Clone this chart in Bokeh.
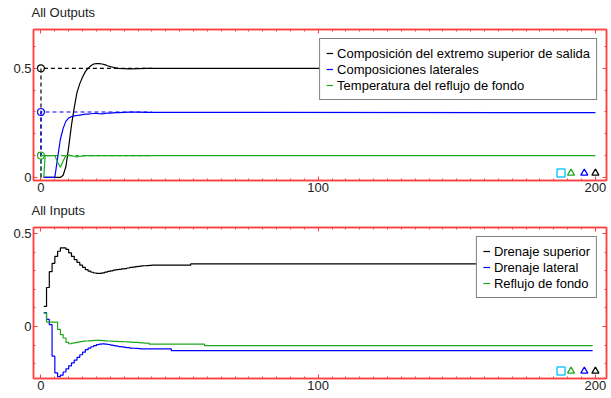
from bokeh.plotting import figure
from bokeh.layouts import column
from bokeh.models import LinearAxis, FixedTicker, Range1d, Legend, LegendItem
from bokeh.embed import file_html
from bokeh.resources import INLINE

FONT = "Liberation Sans"
RED = "#ff4040"
BLACK = "#000000"
BLUE = "#0000ff"
GREEN = "#1fa81f"
CYAN = "#1ec8ff"

# ---------------- All Outputs ----------------
out_t = [1, 1.5, 2, 3, 4, 5, 6, 7, 8, 9, 10, 11, 12, 13, 14, 15, 16, 17, 18, 19, 20,
         21, 22, 23, 24, 25, 26, 27, 28, 30, 32, 35, 38, 40, 200]
out_top = [0, 0, 0, 0, 0, 0, 0, 0,
           0.01, 0.05, 0.14, 0.24, 0.32, 0.39, 0.43, 0.46, 0.485, 0.50, 0.512, 0.52, 0.522,
           0.522, 0.52, 0.517, 0.512, 0.508, 0.505, 0.502, 0.5,
           0.499, 0.498, 0.499, 0.5, 0.5, 0.5]
out_side = [0, 0, 0, 0, 0, 0, 0.09, 0.175,
            0.225, 0.258, 0.272, 0.279, 0.282, 0.284, 0.286, 0.288, 0.29, 0.29, 0.292, 0.293, 0.294,
            0.292, 0.291, 0.293, 0.295, 0.295, 0.296, 0.297, 0.297,
            0.298, 0.299, 0.299, 0.298, 0.298, 0.297]
out_temp = [0, 0.1, 0.1, 0.1, 0.1, 0.1, 0.07, 0.047,
            0.075, 0.1, 0.103, 0.1, 0.096, 0.094, 0.096, 0.099, 0.1, 0.1, 0.1, 0.1, 0.1,
            0.1, 0.1, 0.1, 0.1, 0.1, 0.1, 0.1, 0.1,
            0.1, 0.1, 0.1, 0.1, 0.1, 0.1]

# setpoint trajectories (dashed) and their start markers
sp_t = [0, 0, 40]
sp_top = [0, 0.5, 0.5]
sp_side = [0, 0.3, 0.3]
sp_temp = [0, 0.1, 0.1]

out_labels = ["Composición del extremo superior de salida",
              "Composiciones laterales",
              "Temperatura del reflujo de fondo"]

# ---------------- All Inputs ----------------
in_t = list(range(1, 41)) + [47, 54, 59, 199]
in_top = [0.108, 0.21, 0.295, 0.34, 0.377, 0.405, 0.423, 0.423, 0.415, 0.396,
          0.377, 0.36, 0.345, 0.33, 0.318, 0.306, 0.298, 0.292, 0.288, 0.286,
          0.286, 0.289, 0.293, 0.297, 0.3, 0.303, 0.306, 0.308, 0.31, 0.312,
          0.315, 0.318, 0.32, 0.322, 0.324, 0.326, 0.327, 0.328, 0.329, 0.33,
          0.33, 0.337, 0.337, 0.337]
in_side = [0.075, 0.038, 0.01, -0.16, -0.25, -0.27, -0.262, -0.245, -0.228, -0.212,
           -0.196, -0.181, -0.166, -0.152, -0.138, -0.125, -0.116, -0.109, -0.103, -0.098,
           -0.095, -0.094, -0.095, -0.097, -0.1, -0.103, -0.106, -0.108, -0.11, -0.112,
           -0.114, -0.116, -0.117, -0.118, -0.119, -0.12, -0.121, -0.121, -0.121, -0.121,
           -0.13, -0.13, -0.13, -0.13]
in_reflux = [0.072, 0.024, 0.024, 0.024, 0.024, -0.016, -0.044, -0.062, -0.086, -0.093,
             -0.09, -0.087, -0.084, -0.081, -0.079, -0.078, -0.077, -0.076, -0.075, -0.075,
             -0.075, -0.076, -0.077, -0.078, -0.079, -0.08, -0.08, -0.081, -0.081, -0.082,
             -0.083, -0.084, -0.085, -0.086, -0.087, -0.088, -0.089, -0.09, -0.095, -0.095,
             -0.095, -0.095, -0.103, -0.103]
in_labels = ["Drenaje superior", "Drenaje lateral", "Reflujo de fondo"]

# indicator markers in the lower right corner
mk_t = [187.6, 191.2, 196, 200]
mk_out_y = [0.02, 0.02, 0.02, 0.02]
mk_in_y = [-0.24, -0.24, -0.24, -0.24]

# ticks
x_major = [0, 100, 200]
x_minor = list(range(-0, 205, 5))
y_major = [0, 0.5]
y_minor_out = [0, 0.1, 0.2, 0.3, 0.4, 0.5, 0.6]
y_minor_in = [-0.2, -0.1, 0, 0.1, 0.2, 0.3, 0.4, 0.5]


def style_axis(ax, labels=True):
    ax.axis_line_color = RED
    ax.axis_line_width = 1.5
    ax.major_tick_line_color = RED
    ax.minor_tick_line_color = RED
    ax.major_tick_in = 4
    ax.major_tick_out = 0
    ax.minor_tick_in = 2
    ax.minor_tick_out = 0
    if labels:
        ax.major_label_text_font = FONT
        ax.major_label_text_font_size = "13px"
        ax.major_label_text_color = "#222222"
        ax.major_label_standoff = 2
    else:
        ax.major_label_text_font_size = "0px"
        ax.major_label_text_color = None
        ax.major_label_standoff = 0


def make_fig(title, height, lift, bottom, yr, yminor, standoff):
    p = figure(width=611, height=height, output_backend="svg", toolbar_location=None,
               x_range=Range1d(-2.7, 204), y_range=Range1d(*yr),
               min_border_left=33, min_border_right=5,
               min_border_top=0, min_border_bottom=bottom,
               margin=(-lift, 0, 0, 0))
    p.title.text = title
    p.title.align = "left"
    p.title.vertical_align = "top"
    p.title.offset = -2
    p.title.text_font = FONT
    p.title.text_font_size = "13px"
    p.title.text_font_style = "normal"
    p.title.text_color = "#222222"
    p.title.standoff = standoff
    p.grid.visible = False
    p.outline_line_color = RED
    p.outline_line_width = 1.5
    p.background_fill_color = "white"
    p.border_fill_alpha = 0
    xt = FixedTicker(ticks=x_major, minor_ticks=x_minor)
    yt = FixedTicker(ticks=y_major, minor_ticks=yminor)
    p.xaxis.ticker = xt
    p.yaxis.ticker = yt
    for ax in p.xaxis:
        style_axis(ax)
    for ax in p.yaxis:
        style_axis(ax)
    ra = LinearAxis(ticker=yt)
    style_axis(ra, labels=False)
    p.add_layout(ra, "right")
    ta = LinearAxis(ticker=xt)
    style_axis(ta, labels=False)
    p.add_layout(ta, "above")
    return p


def make_legend(items):
    lg = Legend(items=items, location="top_right")
    lg.border_line_color = "black"
    lg.border_line_width = 1
    lg.background_fill_color = "white"
    lg.background_fill_alpha = 1
    lg.label_text_font = FONT
    lg.label_text_font_size = "13px"
    lg.label_text_color = "black"
    lg.glyph_width = 7
    lg.glyph_height = 16
    lg.label_height = 16
    lg.label_standoff = 4
    lg.padding = 6
    lg.spacing = 0
    lg.margin = 9
    return lg


# ---------- top figure ----------
p1 = make_fig("All Outputs", 204, 4, 20, (-0.014, 0.678), y_minor_out, 16)
colors = [BLACK, BLUE, GREEN]
r_out = []
for sp, c in zip([sp_top, sp_side, sp_temp], colors):
    p1.line(sp_t, sp, color=c, line_width=1.2, line_dash="4 3")
for ys, c in zip([out_top, out_side, out_temp], colors):
    r_out.append(p1.line(out_t, ys, color=c, line_width=1.2))
for sp, c in zip([sp_top, sp_side, sp_temp], colors):
    p1.scatter([sp_t[1]], [sp[1]], marker="circle", size=7, fill_color=None,
               line_color=c, line_width=1.2)
p1.scatter(mk_t[:1], mk_out_y[:1], marker="square", size=8, fill_color=None,
           line_color=CYAN, line_width=1.5)
p1.scatter(mk_t[1:], mk_out_y[1:], marker="triangle", size=7, fill_color=None,
           line_color=[GREEN, BLUE, BLACK], line_width=1.3)
p1.add_layout(make_legend([LegendItem(label=l, renderers=[r])
                           for l, r in zip(out_labels, r_out)]))

# ---------- bottom figure ----------
p2 = make_fig("All Inputs", 203, 5, 20, (-0.28, 0.533), y_minor_in, 15)
r_in = []
for ys, c in zip([in_top, in_side, in_reflux], colors):
    r_in.append(p2.step(in_t, ys, mode="after", color=c, line_width=1.2))
p2.scatter(mk_t[:1], mk_in_y[:1], marker="square", size=8, fill_color=None,
           line_color=CYAN, line_width=1.5)
p2.scatter(mk_t[1:], mk_in_y[1:], marker="triangle", size=7, fill_color=None,
           line_color=[GREEN, BLUE, BLACK], line_width=1.3)
p2.add_layout(make_legend([LegendItem(label=l, renderers=[r])
                           for l, r in zip(in_labels, r_in)]))

layout = column(p1, p2, spacing=0)
open("out.html", "w").write(file_html(layout, INLINE))
